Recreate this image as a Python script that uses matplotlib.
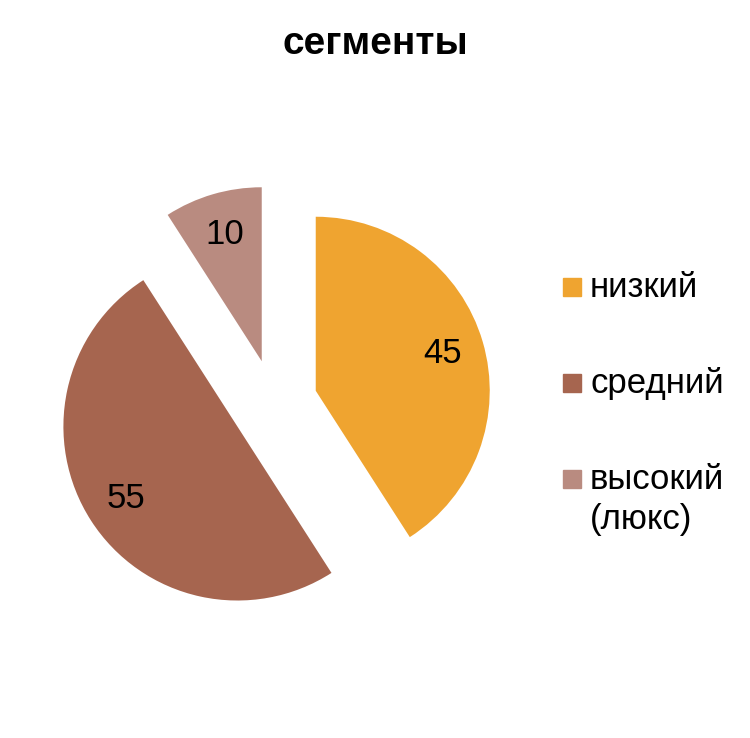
import matplotlib
matplotlib.use("Agg")
import matplotlib.pyplot as plt
from matplotlib.patches import Rectangle

plt.rcParams['font.family'] = ['Liberation Sans', 'DejaVu Sans']

# data
segments = ["низкий", "средний", "высокий\n(люкс)"]
values = [45, 55, 10]
colors = ["#EFA430", "#A6654F", "#B98B80"]
title = "сегменты"

total = sum(values)

fig = plt.figure(figsize=(7.5, 7.38), dpi=100)
ax = fig.add_axes([0, 0, 1, 1])

wedges, texts, autotexts = ax.pie(
    values, colors=colors, startangle=90, counterclock=False,
    explode=[0.25] * len(values), radius=1.0,
    autopct=lambda p: f"{round(p * total / 100)}", pctdistance=0.76,
    textprops=dict(fontsize=25, color="black"),
    wedgeprops=dict(linewidth=0),
)

# pie centre at ~ (274, 403) px, radius ~174 px
scale = 174.0
cx, cy = 274.0, 403.0
ax.set_xlim(-cx / scale, (750 - cx) / scale)
ax.set_ylim(-(738 - cy) / scale, cy / scale)
ax.set_aspect("auto")
ax.axis("off")

fig.text(375 / 750, 1 - 44 / 738, title, ha="center", va="center",
         fontsize=28, fontweight="bold")

# legend drawn by hand
y0, step = 287, 96
for i, (lab, col) in enumerate(zip(segments, colors)):
    yc = y0 + i * step
    fig.patches.append(Rectangle((563 / 750, 1 - (yc + 9) / 738), 18 / 750, 18 / 738,
                                 transform=fig.transFigure, color=col, figure=fig))
    lines = lab.split("\n")
    for j, line in enumerate(lines):
        fig.text(590 / 750, 1 - (yc + 10 + 40 * j) / 738, line, ha="left",
                 va="baseline", fontsize=25)

fig.savefig("out.png", dpi=100)
